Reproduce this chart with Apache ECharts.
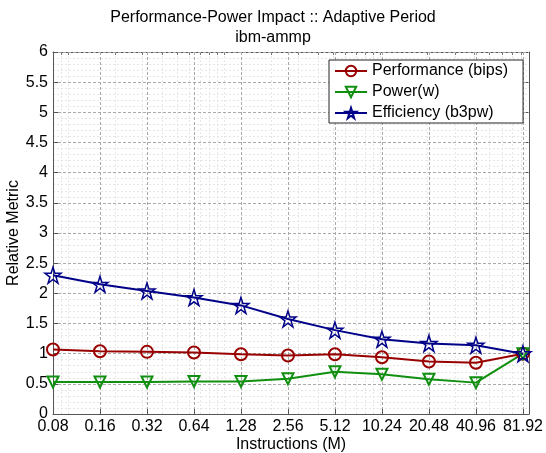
<!DOCTYPE html>
<html><head><meta charset="utf-8">
<script src="https://cdn.jsdelivr.net/npm/echarts@6/dist/echarts.min.js"></script>
<style>html,body{margin:0;padding:0;background:#fff}#c{width:546px;height:453px}</style>
</head><body><div id="c"></div>
<script>
const instructions = [0.08, 0.16, 0.32, 0.64, 1.28, 2.56, 5.12, 10.24, 20.48, 40.96, 81.92];
const tickLabels = ['0.08','0.16','0.32','0.64','1.28','2.56','5.12','10.24','20.48','40.96','81.92'];
const performance = [1.07, 1.04, 1.03, 1.02, 0.99, 0.97, 0.99, 0.94, 0.87, 0.85, 1.0];
const power = [0.53, 0.53, 0.53, 0.54, 0.54, 0.585, 0.70, 0.66, 0.575, 0.52, 1.0];
const efficiency = [2.30, 2.15, 2.04, 1.93, 1.80, 1.575, 1.39, 1.24, 1.17, 1.14, 1.0];
const minorX = [0.09,0.1,0.2,0.3,0.4,0.5,0.6,0.7,0.8,0.9,1,2,3,4,5,6,7,8,9,10,20,30,40,50,60,70,80];

const X_MIN = 0.08, X_MAX = 89.6;
const FONT = 'Liberation Sans, Arial, sans-serif';
const star = 'path://M0,-100 L22.45,-30.9 L95.1,-30.9 L36.33,11.8 L58.8,80.9 L0,38.2 L-58.8,80.9 L-36.33,11.8 L-95.1,-30.9 L-22.45,-30.9 Z';

const pair = (ys) => instructions.map((x, i) => [x, ys[i]]);
const chart = echarts.init(document.getElementById('c'), null, {renderer: 'canvas'});

function mkSeries(name, ys, color, symbol, size, rot, bw) {
  return {
    name, type: 'line', data: pair(ys), xAxisIndex: 0, yAxisIndex: 0,
    symbol, symbolSize: size, symbolRotate: rot || 0, showAllSymbol: true,
    lineStyle: {color, width: 2},
    itemStyle: {color: 'rgba(255,255,255,0)', borderColor: color, borderWidth: bw},
    emphasis: {disabled: true}, z: 5
  };
}

chart.setOption({
  animation: false,
  backgroundColor: '#fff',
  title: {
    text: 'Performance-Power Impact :: Adaptive Period\nibm-ammp',
    left: 'center', top: 3,
    textStyle: {fontFamily: FONT, fontSize: 16, fontWeight: 'normal', color: '#000', lineHeight: 20}
  },
  legend: {
    orient: 'vertical', left: 329, top: 60,
    padding: [3, 15, 2, 5], itemGap: 5, itemWidth: 32, itemHeight: 13,
    backgroundColor: '#fff', borderColor: '#222', borderWidth: 1,
    textStyle: {fontFamily: FONT, fontSize: 16, color: '#000'},
    data: ['Performance (bips)', 'Power(w)', 'Efficiency (b3pw)']
  },
  grid: {left: 53, right: 17, top: 52, bottom: 39, containLabel: false, outerBoundsMode: 'none'},
  xAxis: [
    { type: 'log', logBase: 10, min: X_MIN, max: X_MAX, position: 'bottom',
      name: 'Instructions (M)', nameLocation: 'middle', nameGap: 23, nameMoveOverlap: false,
      nameTextStyle: {fontFamily: FONT, fontSize: 16, color: '#000'},
      axisLine: {show: true, lineStyle: {color: '#555', width: 1}},
      axisTick: {show: true, inside: true, length: 5, customValues: instructions, lineStyle: {color: '#555'}},
      axisLabel: {show: true, customValues: instructions, fontFamily: FONT, fontSize: 16, color: '#000', margin: 5,
        formatter: (v) => { const i = instructions.findIndex(x => Math.abs(x - v) < 1e-6); return i >= 0 ? tickLabels[i] : ''; }},
      splitLine: {show: true, lineStyle: {color: '#aaa', type: [3, 2], width: 1}},
      minorTick: {show: false}, minorSplitLine: {show: false}, z: 3 },
    { type: 'log', logBase: 10, min: X_MIN, max: X_MAX, position: 'top',
      axisLine: {show: true, onZero: false, lineStyle: {color: '#555', width: 1}},
      axisTick: {show: true, inside: true, length: 3, customValues: minorX, lineStyle: {color: '#777'}},
      axisLabel: {show: false, customValues: minorX},
      splitLine: {show: true, lineStyle: {color: '#e6e6e6', type: [2, 2], width: 1}},
      z: 1 }
  ],
  yAxis: [
    { type: 'value', min: 0, max: 6, interval: 0.5, position: 'left',
      name: 'Relative Metric', nameLocation: 'middle', nameGap: 31, nameMoveOverlap: false,
      nameTextStyle: {fontFamily: FONT, fontSize: 16, color: '#000'},
      axisLine: {show: true, lineStyle: {color: '#555', width: 1}},
      axisTick: {show: true, inside: true, length: 5, lineStyle: {color: '#555'}},
      axisLabel: {fontFamily: FONT, fontSize: 16, color: '#000', margin: 5},
      splitLine: {show: true, lineStyle: {color: '#aaa', type: [3, 2], width: 1}},
      minorTick: {show: false, splitNumber: 5},
      minorSplitLine: {show: true, lineStyle: {color: '#e6e6e6', type: [2, 2], width: 1}}, z: 3 },
    { type: 'value', min: 0, max: 6, interval: 0.5, position: 'right',
      axisLine: {show: true, lineStyle: {color: '#555', width: 1}},
      axisTick: {show: true, inside: true, length: 5, lineStyle: {color: '#555'}},
      axisLabel: {show: false}, splitLine: {show: false} }
  ],
  series: [
    mkSeries('Performance (bips)', performance, '#990000', 'circle', 12, 0, 2),
    mkSeries('Power(w)', power, '#108f10', 'triangle', 11, 180, 2),
    mkSeries('Efficiency (b3pw)', efficiency, '#000088', star, 16, 0, 1.5)
  ]
});
</script></body></html>
